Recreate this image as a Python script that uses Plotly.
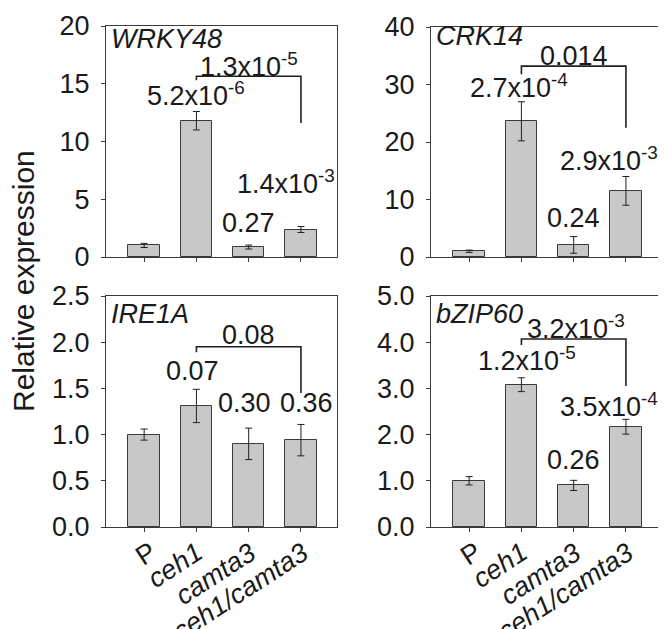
import plotly.graph_objects as go

# ---------------- data ----------------
categories = ["P", "ceh1", "camta3", "ceh1/camta3"]
tick_text = ["P", "<i>ceh1</i>", "<i>camta3</i>", "<i>ceh1/camta3</i>"]
genes = ["WRKY48", "CRK14", "IRE1A", "bZIP60"]

wrky48_mean = [1.0, 11.8, 0.86, 2.38]
wrky48_err = [0.18, 0.8, 0.17, 0.26]
crk14_mean = [1.0, 23.6, 2.1, 11.5]
crk14_err = [0.2, 3.4, 1.45, 2.5]
ire1a_mean = [1.0, 1.31, 0.90, 0.94]
ire1a_err = [0.06, 0.18, 0.17, 0.17]
bzip60_mean = [1.0, 3.08, 0.90, 2.17]
bzip60_err = [0.09, 0.15, 0.11, 0.16]

y_max = [20, 40, 2.5, 5.0]
y_dtick = [5, 10, 0.5, 1.0]
y_format = ["d", "d", ".1f", ".1f"]

# p-value labels: (text, x position in category units, y value)
wrky48_p_text = ["5.2x10<sup>-6</sup>", "1.3x10<sup>-5</sup>", "0.27", "1.4x10<sup>-3</sup>"]
wrky48_p_x = [1.0, 2.0, 2.0, 2.71]
wrky48_p_y = [14.1, 16.6, 2.94, 6.5]
crk14_p_text = ["2.7x10<sup>-4</sup>", "0.014", "0.24", "2.9x10<sup>-3</sup>"]
crk14_p_x = [0.95, 2.0, 2.0, 2.68]
crk14_p_y = [29.7, 35.0, 6.8, 17.1]
ire1a_p_text = ["0.07", "0.08", "0.30", "0.36"]
ire1a_p_x = [0.92, 2.0, 1.92, 3.1]
ire1a_p_y = [1.69, 2.08, 1.34, 1.34]
bzip60_p_text = ["1.2x10<sup>-5</sup>", "3.2x10<sup>-3</sup>", "0.26", "3.5x10<sup>-4</sup>"]
bzip60_p_x = [1.1, 2.05, 2.0, 2.67]
bzip60_p_y = [3.63, 4.33, 1.44, 2.64]

# bracket: [horizontal level, left foot, right foot]
bracket_level = [15.65, 33.2, 1.95, 4.07]
bracket_left_foot = [15.3, 31.8, 1.89, 3.94]
bracket_right_foot = [11.6, 22.5, 1.45, 3.05]
gene_label_y = [18.9, 38.4, 2.31, 4.6]

means = [wrky48_mean, crk14_mean, ire1a_mean, bzip60_mean]
errs = [wrky48_err, crk14_err, ire1a_err, bzip60_err]
p_texts = [wrky48_p_text, crk14_p_text, ire1a_p_text, bzip60_p_text]
p_xs = [wrky48_p_x, crk14_p_x, ire1a_p_x, bzip60_p_x]
p_ys = [wrky48_p_y, crk14_p_y, ire1a_p_y, bzip60_p_y]

# ---------------- layout ----------------
W, H = 666, 629
OFF = 8  # page body margin
FONT = "Arial, Liberation Sans, sans-serif"
TXT = "#1a1a1a"
AX = "#3a3a3a"

# panel pixel boxes on the page (left, right, top, bottom)
boxes = [(106, 337, 26, 257), (431, 662, 27, 257), (106, 337, 296, 527), (431, 662, 296, 527)]
xr = [-0.73, 3.69]
xlabel_top_px = 534  # page y of the top of the rotated category labels
xlabel_shift = [20, 15, 15, 15]  # pixel offset of each label's right edge from its tick

fig = go.Figure()
for i in range(4):
    xa = "x" if i == 0 else f"x{i+1}"
    ya = "y" if i == 0 else f"y{i+1}"
    fig.add_trace(go.Bar(
        x=list(range(4)), y=means[i], width=0.6,
        marker=dict(color="#c8c8c8", line=dict(color=AX, width=1)),
        error_y=dict(type="data", array=errs[i], visible=True, color="#202020",
                     thickness=1, width=3.5),
        xaxis=xa, yaxis=ya, showlegend=False, hoverinfo="skip"))

    l, r, t, b = boxes[i]
    xd = [(l - OFF) / W, (r - OFF) / W]
    yd = [1 - (b - OFF) / H, 1 - (t - OFF) / H]
    bottom = i >= 2
    xkey = "xaxis" if i == 0 else f"xaxis{i+1}"
    ykey = "yaxis" if i == 0 else f"yaxis{i+1}"
    fig.layout[xkey] = dict(
        domain=xd, anchor=ya, range=xr, showgrid=False, zeroline=False,
        showline=True, linecolor=AX, linewidth=1, mirror=True, automargin=False,
        ticks="outside", ticklen=4, tickcolor=AX,
        tickmode="array", tickvals=list(range(4)), showticklabels=False,
        fixedrange=True)
    fig.layout[ykey] = dict(
        domain=yd, anchor=xa, range=[0, y_max[i]], showgrid=False, zeroline=False,
        showline=True, linecolor=AX, linewidth=1, mirror=True, automargin=False,
        ticks="outside", ticklen=4, tickcolor=AX, dtick=y_dtick[i], tick0=0,
        tickformat=y_format[i], ticklabelstandoff=6,
        tickfont=dict(family=FONT, size=27, color=TXT), fixedrange=True)

    # rotated category labels on the bottom panels
    if bottom:
        for k, lab in enumerate(tick_text):
            fig.add_annotation(text=lab, x=k, xref=xa, xshift=xlabel_shift[k],
                               y=1 - (xlabel_top_px - OFF) / H, yref="paper",
                               xanchor="right", yanchor="top", textangle=-33,
                               showarrow=False,
                               font=dict(family=FONT, size=27, color=TXT))

    # bracket
    fig.add_shape(type="path",
                  path=f"M 1 {bracket_left_foot[i]} L 1 {bracket_level[i]} L 3 {bracket_level[i]} L 3 {bracket_right_foot[i]}",
                  xref=xa, yref=ya, line=dict(color="#202020", width=1.6))
    # gene name
    fig.add_annotation(text=f"<i>{genes[i]}</i>", x=-0.67, y=gene_label_y[i],
                       xref=xa, yref=ya, xanchor="left", yanchor="middle",
                       showarrow=False, font=dict(family=FONT, size=27, color=TXT))
    # p-values
    for txt, px, py in zip(p_texts[i], p_xs[i], p_ys[i]):
        fig.add_annotation(text=txt, x=px, y=py, xref=xa, yref=ya,
                           xanchor="center", yanchor="middle", showarrow=False,
                           font=dict(family=FONT, size=27, color=TXT))

fig.add_annotation(text="Relative expression", x=(23 - OFF) / W, y=1 - (281 - OFF) / H,
                   xref="paper", yref="paper", textangle=-90,
                   xanchor="center", yanchor="middle", showarrow=False,
                   font=dict(family=FONT, size=30, color=TXT))

fig.update_layout(width=W, height=H, margin=dict(l=0, r=0, t=0, b=0),
                  paper_bgcolor="white", plot_bgcolor="white", bargap=0)
fig.write_html("out.html")
